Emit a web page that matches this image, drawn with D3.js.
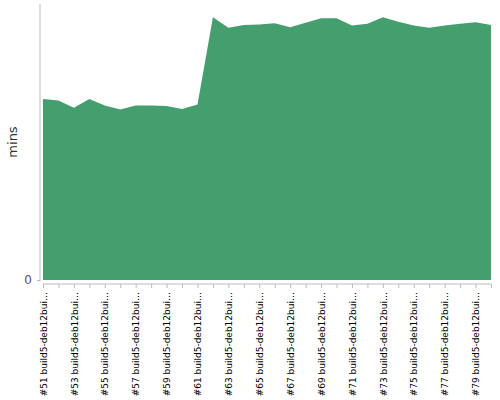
<!DOCTYPE html>
<html><head><meta charset="utf-8">
<script src="https://cdn.jsdelivr.net/npm/d3@7"></script>
<style>body{margin:0;background:#fff}svg{display:block;font-family:"DejaVu Sans",sans-serif}</style>
</head><body><svg id="c" width="500" height="400"></svg>
<script>
const categories = d3.range(51, 81).map(n => "#" + n + " build5-deb12bui…");
const values = [32.8,32.5,31.2,32.8,31.6,30.9,31.6,31.6,31.5,31.0,31.8,
  47.6,45.7,46.2,46.3,46.5,45.8,46.6,47.4,47.4,46.1,46.4,47.6,46.8,46.1,45.7,46.1,46.4,46.7,46.2];
const yTicks = [0];
const yLabel = "mins";

const svg = d3.select("#c");
const x = d3.scalePoint().domain(categories).range([43, 491]);
const y = d3.scaleLinear().domain([0, 50]).range([280, 4]);

svg.append("path")
  .datum(values)
  .attr("fill", "#459e6e")
  .attr("d", d3.area().x((d,i) => x(categories[i])).y0(y(0)).y1(d => y(d)));

// y axis
const ya = svg.append("g").attr("transform", "translate(40,0)")
  .call(d3.axisLeft(y).tickValues(yTicks).tickSize(3).tickPadding(5));
ya.select(".domain").attr("stroke", "#bbb").attr("d", "M0,4V281");
ya.selectAll(".tick line").attr("stroke", "#bbb");
ya.selectAll("text").attr("font-size", 12).attr("fill", "#555").attr("font-family", "DejaVu Sans");

// x axis
const xa = svg.append("g").attr("transform", "translate(0,284)")
  .call(d3.axisBottom(x).tickSize(4).tickPadding(0));
xa.select(".domain").attr("stroke", "#bbb").attr("d", "M43,0H491");
xa.selectAll(".tick line").attr("stroke", "#bbb");
xa.selectAll(".tick text")
  .text((d,i) => i % 2 === 0 ? d : "")
  .attr("font-size", 9).attr("fill", "#000").attr("font-family", "DejaVu Sans")
  .attr("transform", "rotate(-90)")
  .attr("text-anchor", "end")
  .attr("x", -8).attr("y", 0).attr("dy", "0.35em");

svg.append("text")
  .attr("transform", "translate(17,142) rotate(-90)")
  .attr("text-anchor", "middle")
  .attr("font-size", 13).attr("fill", "#333")
  .text(yLabel);
</script></body></html>
